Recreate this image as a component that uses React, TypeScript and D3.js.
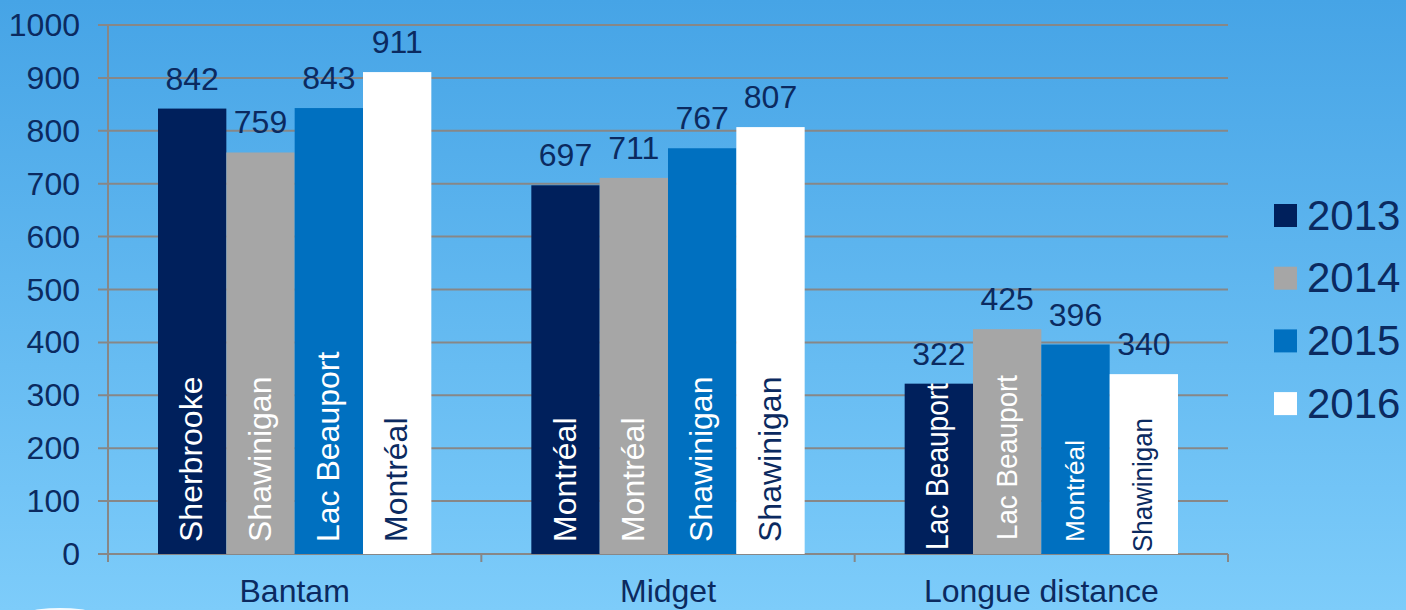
import * as d3 from 'd3';

const W = 1406;
const H = 610;

const categories = ['Bantam', 'Midget', 'Longue distance'];
const years = ['2013', '2014', '2015', '2016'];
const values2013 = [842, 697, 322];
const values2014 = [759, 711, 425];
const values2015 = [843, 767, 396];
const values2016 = [911, 807, 340];
// city written inside each bar, per year
const cities2013 = ['Sherbrooke', 'Montréal', 'Lac Beauport'];
const cities2014 = ['Shawinigan', 'Montréal', 'Lac Beauport'];
const cities2015 = ['Lac Beauport', 'Shawinigan', 'Montréal'];
const cities2016 = ['Montréal', 'Shawinigan', 'Shawinigan'];
const yTicks = [0, 100, 200, 300, 400, 500, 600, 700, 800, 900, 1000];

const COLORS = ['#00205c', '#a6a6a6', '#0070c0', '#ffffff'];
const NAVY = '#0b2a60';
const GRID = '#878787';
const FONT = '"Liberation Sans", Arial, sans-serif';

const series = [values2013, values2014, values2015, values2016];
const cities = [cities2013, cities2014, cities2015, cities2016];

const x0 = d3.scaleBand<string>().domain(categories).range([108, 1228]);
const x1 = d3.scaleBand<string>().domain(years).range([50, x0.bandwidth() - 50]);
const y = d3.scaleLinear().domain([0, 1000]).range([554, 25]);

// the longue distance labels were squeezed to fit in the original
type LabelStyle = { size: number; bottom: number; length?: number };
const innerStyle = (ci: number, si: number): LabelStyle => {
  if (ci < 2) return { size: 32, bottom: 542 };
  return [
    { size: 31, bottom: 550, length: 167 },
    { size: 30, bottom: 540, length: 165 },
    { size: 25, bottom: 542, length: 102 },
    { size: 27, bottom: 552, length: 134 },
  ][si];
};

export default function App() {
  return (
    <div style={{ position: 'fixed', left: 0, top: 0, width: W, height: H }}>
      <svg width={W} height={H} style={{ display: 'block' }} fontFamily={FONT}>
        <defs>
          <linearGradient id="bg" x1="0" y1="0" x2="0" y2="1">
            <stop offset="0%" stopColor="#46a4e6" />
            <stop offset="100%" stopColor="#7dccfa" />
          </linearGradient>
        </defs>
        <rect width={W} height={H} fill="url(#bg)" />
        <ellipse cx={60} cy={626} rx={55} ry={18} fill="#ffffff" opacity={0.9} />

        {/* gridlines and y ticks */}
        {yTicks.map((t) => (
          <g key={t}>
            <line x1={98} x2={1228} y1={y(t)} y2={y(t)} stroke={GRID} strokeWidth={2} />
            <text
              x={80}
              y={y(t)}
              textAnchor="end"
              dominantBaseline="central"
              fontSize={32}
              fill={NAVY}
            >
              {t}
            </text>
          </g>
        ))}
        <line x1={108} x2={108} y1={25} y2={562} stroke={GRID} strokeWidth={2} />
        {categories.map((c) => (
          <line
            key={c}
            x1={(x0(c) as number) + x0.bandwidth()}
            x2={(x0(c) as number) + x0.bandwidth()}
            y1={554}
            y2={562}
            stroke={GRID}
            strokeWidth={2}
          />
        ))}

        {/* bars */}
        {categories.map((c, ci) => (
          <g key={c} transform={`translate(${x0(c)},0)`}>
            {years.map((yr, si) => {
              const v = series[si][ci];
              const bx = x1(yr) as number;
              const bw = x1.bandwidth();
              const cx = bx + bw / 2;
              const st = innerStyle(ci, si);
              return (
                <g key={yr}>
                  <rect x={bx} y={y(v)} width={bw} height={y(0) - y(v)} fill={COLORS[si]} />
                  <text
                    x={cx}
                    y={y(v) - 30}
                    textAnchor="middle"
                    dominantBaseline="central"
                    fontSize={32}
                    fill={NAVY}
                  >
                    {v}
                  </text>
                  <text
                    transform={`translate(${cx - 1},${st.bottom}) rotate(-90)`}
                    dominantBaseline="central"
                    fontSize={st.size}
                    fill={si === 3 ? NAVY : '#ffffff'}
                    textLength={st.length}
                    lengthAdjust={st.length ? 'spacingAndGlyphs' : undefined}
                  >
                    {cities[si][ci]}
                  </text>
                </g>
              );
            })}
            <text
              x={x0.bandwidth() / 2}
              y={602}
              textAnchor="middle"
              fontSize={32}
              fill={NAVY}
            >
              {c}
            </text>
          </g>
        ))}

        {/* legend */}
        {years.map((yr, i) => (
          <g key={yr} transform={`translate(1274,${215 + i * 62.7})`}>
            <rect x={0} y={-11} width={23} height={23} fill={COLORS[i]} />
            <text x={33} y={0} dominantBaseline="central" fontSize={42} fill={NAVY}>
              {yr}
            </text>
          </g>
        ))}
      </svg>
    </div>
  );
}
